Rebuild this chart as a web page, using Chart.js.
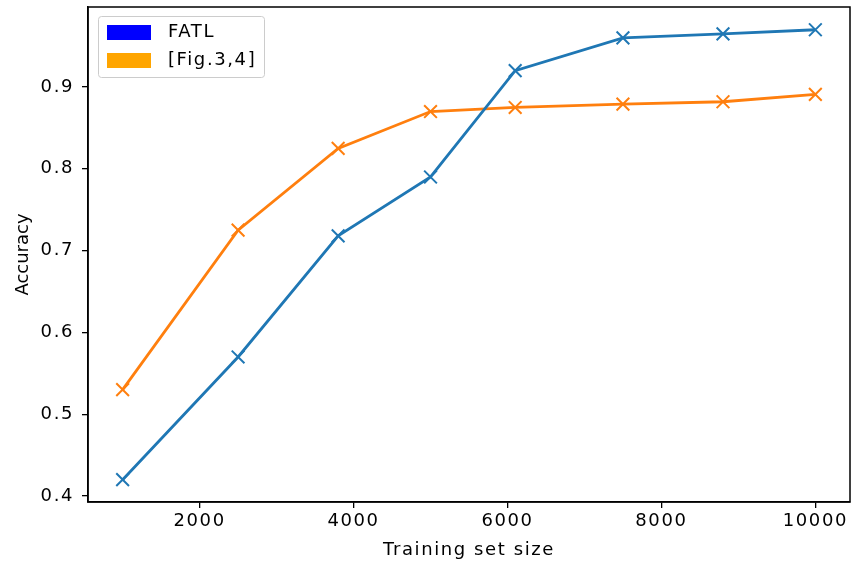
<!DOCTYPE html>
<html>
<head>
<meta charset="utf-8">
<script src="https://cdn.jsdelivr.net/npm/chart.js@4/dist/chart.umd.min.js"></script>
<style>
  html, body { margin: 0; padding: 0; background: #fff; }
  #wrap { width: 853px; height: 565px; }
</style>
</head>
<body>
<div id="wrap"><canvas id="c" width="853" height="565"></canvas></div>
<script>
  // data
  var sizes = [1000, 2500, 3800, 5000, 6100, 7500, 8800, 10000];
  var fatl = [0.42, 0.57, 0.718, 0.79, 0.92, 0.96, 0.965, 0.97];
  var fig34 = [0.53, 0.725, 0.825, 0.87, 0.875, 0.879, 0.882, 0.891];
  var xTicks = [2000, 4000, 6000, 8000, 10000];
  var yTicks = [0.4, 0.5, 0.6, 0.7, 0.8, 0.9];
  var seriesNames = ['FATL', '[Fig.3,4]'];
  var legendColors = ['#0000ff', '#ffa500'];
  var yTitle = 'Accuracy';

  var blue = '#1f77b4';
  var orange = '#ff7f0e';
  var font = "'DejaVu Sans', sans-serif";
  var spacing = '1.6px'; // reference text is a bit wider than plain DejaVu

  function pts(ys) {
    return sizes.map(function (x, i) { return { x: x, y: ys[i] }; });
  }

  function setSpacing(chart) {
    if ('letterSpacing' in chart.ctx) {
      chart.ctx.letterSpacing = spacing;
    }
  }

  // matplotlib-like frame, y label and legend box
  var framePlugin = {
    id: 'frame',
    beforeUpdate: setSpacing,
    beforeDraw: setSpacing,
    afterDraw: function (chart) {
      var ctx = chart.ctx;
      var a = chart.chartArea;
      ctx.save();
      ctx.strokeStyle = '#000';
      ctx.lineWidth = 1.5;
      ctx.strokeRect(a.left, a.top, a.right - a.left, a.bottom - a.top);

      // y axis title
      ctx.save();
      if ('letterSpacing' in ctx) ctx.letterSpacing = '0px';
      ctx.translate(23, (a.top + a.bottom) / 2);
      ctx.rotate(-Math.PI / 2);
      ctx.font = '18px ' + font;
      ctx.fillStyle = '#000';
      ctx.textAlign = 'center';
      ctx.textBaseline = 'middle';
      ctx.fillText(yTitle, 0, 0);
      ctx.restore();

      // legend
      var lx = a.left + 10, ly = a.top + 9, lw = 166, lh = 61;
      ctx.fillStyle = 'rgba(255,255,255,0.8)';
      ctx.strokeStyle = '#cccccc';
      ctx.lineWidth = 1;
      ctx.beginPath();
      ctx.roundRect(lx + 0.5, ly + 0.5, lw, lh, 3);
      ctx.fill();
      ctx.stroke();

      ctx.font = '18px ' + font;
      ctx.textBaseline = 'middle';
      ctx.textAlign = 'left';
      seriesNames.forEach(function (name, i) {
        var cy = ly + 16 + i * 28;
        ctx.fillStyle = legendColors[i];
        ctx.fillRect(lx + 9, cy - 7, 44, 15);
        ctx.fillStyle = '#000';
        ctx.fillText(name, lx + 70, cy);
      });
      ctx.restore();
    }
  };

  function ds(label, ys, color) {
    return {
      label: label,
      data: pts(ys),
      borderColor: color,
      backgroundColor: color,
      borderWidth: 2.8,
      pointStyle: 'crossRot',
      pointRadius: 9,
      pointBorderWidth: 2,
      pointBorderColor: color,
      tension: 0
    };
  }

  new Chart(document.getElementById('c'), {
    type: 'line',
    data: {
      datasets: [ds(seriesNames[0], fatl, blue), ds(seriesNames[1], fig34, orange)]
    },
    options: {
      responsive: false,
      animation: false,
      layout: { autoPadding: false, padding: { top: 7, right: 3, left: 0, bottom: 0 } },
      plugins: {
        legend: { display: false },
        tooltip: { enabled: false }
      },
      scales: {
        x: {
          type: 'linear',
          min: 550,
          max: 10450,
          afterBuildTicks: function (s) {
            s.ticks = xTicks.map(function (v) { return { value: v }; });
          },
          afterFit: function (s) {
            s.height = 63;
            s.paddingLeft = 0;
            s.paddingRight = 0;
          },
          grid: { display: true, drawOnChartArea: false, drawTicks: true, tickLength: 6, color: '#000', lineWidth: 1.3 },
          border: { display: true, color: '#000', width: 1.5 },
          ticks: {
            color: '#000',
            font: { family: font, size: 18 },
            padding: 3,
            maxRotation: 0,
            callback: function (v) { return String(v); }
          },
          title: {
            display: true,
            text: 'Training set size',
            color: '#000',
            font: { family: font, size: 18 },
            padding: { top: 2, bottom: 4 }
          }
        },
        y: {
          type: 'linear',
          min: 0.3927,
          max: 0.9978,
          afterBuildTicks: function (s) {
            s.ticks = yTicks.map(function (v) { return { value: v }; });
          },
          afterFit: function (s) {
            s.width = 88;
            s.paddingTop = 0;
            s.paddingBottom = 0;
          },
          grid: { display: true, drawOnChartArea: false, drawTicks: true, tickLength: 6, color: '#000', lineWidth: 1.3 },
          border: { display: true, color: '#000', width: 1.5 },
          ticks: {
            color: '#000',
            font: { family: font, size: 18 },
            padding: 8,
            callback: function (v) { return v.toFixed(1); }
          },
          title: { display: false }
        }
      }
    },
    plugins: [framePlugin]
  });
</script>
</body>
</html>
